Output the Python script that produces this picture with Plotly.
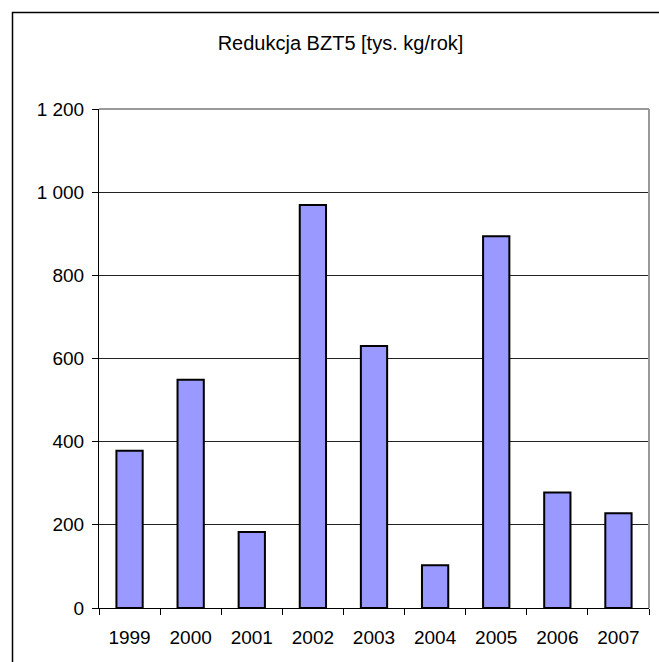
import plotly.graph_objects as go

years = ["1999", "2000", "2001", "2002", "2003", "2004", "2005", "2006", "2007"]
values = [378, 549, 183, 969, 630, 103, 894, 278, 228]
ytick_vals = [0, 200, 400, 600, 800, 1000, 1200]
ytick_text = ["0", "200", "400", "600", "800", "1 000", "1 200"]
title_text = "Redukcja BZT5 [tys. kg/rok]"

font_family = "Liberation Sans, Arial, sans-serif"

fig = go.Figure(
    go.Bar(
        x=years,
        y=values,
        marker=dict(color="#9999FF", line=dict(color="#000000", width=2)),
    )
)

fig.update_layout(
    width=659,
    height=662,
    margin=dict(l=99, r=10, t=109, b=54),
    paper_bgcolor="white",
    plot_bgcolor="white",
    bargap=0.57,
    showlegend=False,
    font=dict(family=font_family, size=19, color="black"),
    title=dict(
        text=title_text,
        x=340.5 / 659,
        xref="container",
        xanchor="center",
        y=1 - 43 / 662,
        yref="container",
        yanchor="middle",
        font=dict(family=font_family, size=20, color="black"),
    ),
    xaxis=dict(
        type="category",
        showline=True,
        linecolor="black",
        linewidth=1,
        ticks="outside",
        tickson="boundaries",
        ticklen=6,
        tickcolor="black",
        showgrid=False,
        ticklabelstandoff=12,
    ),
    yaxis=dict(
        range=[0, 1200],
        tickvals=ytick_vals,
        ticktext=ytick_text,
        showline=True,
        linecolor="black",
        linewidth=1,
        ticks="outside",
        ticklen=6,
        tickcolor="black",
        showgrid=True,
        gridcolor="#222222",
        gridwidth=1,
        zeroline=False,
        ticklabelstandoff=4,
    ),
    shapes=[
        dict(type="line", xref="paper", yref="paper", x0=0, x1=1, y0=1, y1=1,
             line=dict(color="#999999", width=2)),
        dict(type="line", xref="paper", yref="paper", x0=1, x1=1, y0=0, y1=1,
             line=dict(color="#999999", width=2)),
        dict(type="rect", xref="paper", yref="paper",
             x0=(12.5 - 99) / 550, x1=(680 - 99) / 550,
             y0=(608 - 680) / 499, y1=(608 - 12.5) / 499,
             line=dict(color="black", width=1.5), fillcolor="rgba(0,0,0,0)",
             layer="below"),
    ],
)

fig.write_html(
    "out.html",
    config={"displayModeBar": False},
    post_script="document.body.style.margin='0';document.body.style.overflow='hidden';",
)
